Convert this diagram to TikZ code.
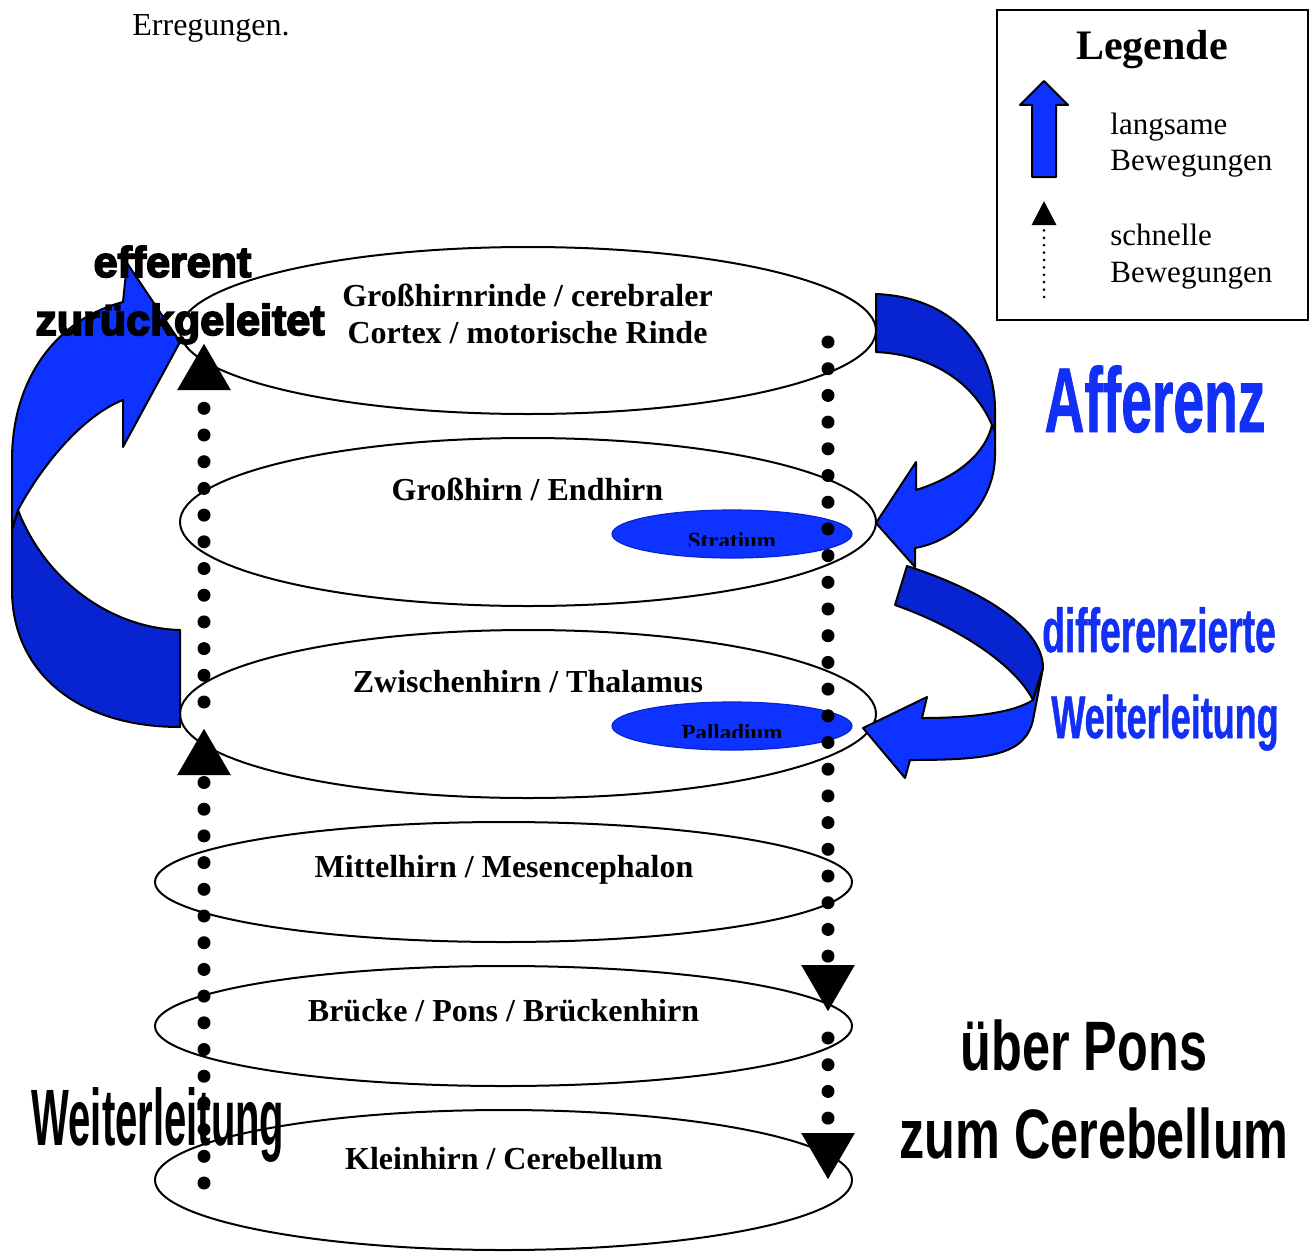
\documentclass[tikz,border=0pt]{standalone}
\usepackage{fontspec}
\setmainfont{Liberation Serif}
\newfontfamily\heavyfont[FakeBold=4]{Liberation Sans}
\newfontfamily\narrowfont[FakeStretch=0.6,FakeBold=0.8]{Liberation Sans}
\newfontfamily\slimfont[FakeStretch=0.5]{Liberation Sans}
\newfontfamily\ponsfont[FakeStretch=0.72]{Liberation Sans}
\usetikzlibrary{shapes.geometric,arrows.meta}
\definecolor{ribbonlight}{RGB}{14,50,255}
\definecolor{ribbondark}{RGB}{8,36,208}
\definecolor{wordblue}{RGB}{18,48,245}

\begin{document}
\begin{tikzpicture}[x=0.5pt, y=-0.5pt,
	brainpart/.style = {draw, ellipse, line width=1pt, minimum width=348pt, inner sep=0pt},
	nucleus/.style = {ellipse, fill=ribbonlight, draw=ribbondark, line width=0.6pt, minimum width=120pt, minimum height=24pt, inner sep=0pt},
	lbl/.style = {anchor=base, inner sep=0pt, font=\fontsize{16}{19}\selectfont\bfseries},
	ribbon/.style = {draw=black, line width=1pt, line join=round},
	fastline/.style = {line width=6.5pt, dash pattern=on 0pt off 13.35pt, line cap=round, -{Triangle[length=23.5pt,width=25pt]}},
	legfast/.style = {line width=1.5pt, dash pattern=on 0pt off 3.7pt, line cap=round, -{Triangle[length=12pt,width=12pt]}},
	]
		\useasboundingbox (0,0) rectangle (1315,1252);
		
		% Hirnebenen
		\node[brainpart, minimum height=83.5pt] (rinde) at (528,330.5) {};
		\node[brainpart, minimum height=84pt] (endhirn) at (528,522) {};
		\node[brainpart, minimum height=84pt] (thalamus) at (528,714) {};
		\node[brainpart, minimum width=348.5pt, minimum height=60pt] (mittelhirn) at (503.5,882) {};
		\node[brainpart, minimum width=348.5pt, minimum height=60pt] (pons) at (503.5,1026) {};
		\node[brainpart, minimum width=348.5pt, minimum height=70pt] (kleinhirn) at (503.5,1180) {};
		
		% efferent zurueckgeleitet
		\filldraw[ribbon, fill=ribbondark] (18,510) -- (12,530) -- (12,590) .. controls (12,670) and (75,727) .. (180,727) -- (180,630) .. controls (110,628) and (45,580) .. (18,510) -- cycle;
		\filldraw[ribbon, fill=ribbonlight] (180,342) -- (127,263) -- (123,302) .. controls (55,320) and (12,380) .. (12,460) -- (12,530) -- (18,510) .. controls (45,460) and (85,415) .. (123,400) -- (123,447) -- cycle;
		
		% differenzierte Weiterleitung
		\filldraw[ribbon, fill=ribbondark] (907,566) .. controls (975,588) and (1043,625) .. (1043,668) -- (1033,700) .. controls (1015,665) and (960,628) .. (895,605) -- cycle;
		\filldraw[ribbon, fill=ribbonlight] (1043,668) -- (1033,720) .. controls (1025,755) and (990,760) .. (910,760) -- (905,778) -- (863,728) -- (927,697) -- (922,718) .. controls (975,718) and (1015,712) .. (1033,700) -- cycle;
		
		% Afferenz
		\filldraw[ribbon, fill=ribbondark] (876,294) .. controls (950,297) and (995,345) .. (995,410) -- (995,432) -- (992,425) .. controls (975,385) and (935,355) .. (876,352) -- cycle;
		\filldraw[ribbon, fill=ribbonlight] (995,432) -- (995,455) .. controls (995,500) and (960,540) .. (915,548) -- (915,567) -- (876,523) -- (916,462) -- (916,490) .. controls (955,478) and (985,455) .. (992,425) -- cycle;
		
		% Kerne
		\node[nucleus] (stratium) at (732,534) {};
		\node[nucleus] (palladium) at (732,726) {};
		\begin{scope}
			\clip (600,500) rectangle (870,545);
			\node[anchor=base, inner sep=0pt, font=\fontsize{11.5}{13}\selectfont\bfseries] (stratiumtext) at (732,548) {Stratium};
		\end{scope}
		\begin{scope}
			\clip (600,700) rectangle (870,737);
			\node[anchor=base, inner sep=0pt, font=\fontsize{11.5}{13}\selectfont\bfseries] (palladiumtext) at (732,740) {Palladium};
		\end{scope}
		
		% schnelle Bahnen
		\coordinate (lbot) at (204,1183);
		\coordinate (lmid) at (204,728);
		\coordinate (lmid2) at (204,702);
		\coordinate (ltop) at (204,343);
		\coordinate (rtop) at (828,342);
		\coordinate (rmid) at (828,1012);
		\coordinate (rmid2) at (828,1038);
		\coordinate (rbot) at (828,1180);
		\draw[fastline] (lbot) -- (lmid);
		\draw[fastline] (lmid2) -- (ltop);
		\draw[fastline] (rtop) -- (rmid);
		\draw[fastline] (rmid2) -- (rbot);
		
		% Beschriftung
		\node[lbl] (rindetext) at (527.5,306) {Großhirnrinde / cerebraler};
		\node[lbl] (rindetext2) at (527.5,343) {Cortex / motorische Rinde};
		\node[lbl] (endhirntext) at (527.5,500) {Großhirn / Endhirn};
		\node[lbl] (thalamustext) at (528,692) {Zwischenhirn / Thalamus};
		\node[lbl] (mittelhirntext) at (504,877) {Mittelhirn / Mesencephalon};
		\node[lbl] (ponstext) at (503.5,1021) {Brücke / Pons / Brückenhirn};
		\node[lbl] (kleinhirntext) at (504,1169) {Kleinhirn / Cerebellum};
		
		\node[anchor=base west, inner sep=0pt, font=\fontsize{16}{19}\selectfont] (erregung) at (132,36) {Erregungen.};
		
		\node[anchor=base, inner sep=0pt, font=\heavyfont\bfseries\fontsize{21.5}{25}\selectfont] (efferent) at (172.5,277) {efferent};
		\node[anchor=base, inner sep=0pt, font=\heavyfont\bfseries\fontsize{21.5}{25}\selectfont] (zurueck) at (180,335) {zurückgeleitet};
		
		\node[anchor=base, inner sep=0pt, text=wordblue, font=\narrowfont\bfseries\fontsize{46}{50}\selectfont] (afferenz) at (1155,432) {Afferenz};
		\node[anchor=base, inner sep=0pt, text=wordblue, font=\narrowfont\bfseries\fontsize{31}{35}\selectfont] (differenz) at (1159,652) {differenzierte};
		\node[anchor=base, inner sep=0pt, text=wordblue, font=\narrowfont\bfseries\fontsize{30}{34}\selectfont] (weiterblau) at (1165,738) {Weiterleitung};
		
		\node[anchor=base, inner sep=0pt, font=\slimfont\bfseries\fontsize{40}{44}\selectfont] (weiter) at (158,1145) {Weiterleitung};
		\node[anchor=base, inner sep=0pt, font=\ponsfont\bfseries\fontsize{35}{40}\selectfont] (ueberpons) at (1084,1070) {über Pons};
		\node[anchor=base, inner sep=0pt, font=\ponsfont\bfseries\fontsize{35}{40}\selectfont] (zumcereb) at (1094,1158) {zum Cerebellum};
		
		% Legende
		\node[draw, line width=1pt, minimum width=155.5pt, minimum height=155pt, inner sep=0pt] (legende) at (1152.5,165) {};
		\node[anchor=base, inner sep=0pt, font=\fontsize{21}{25}\selectfont\bfseries] (legtitel) at (1152,60) {Legende};
		\filldraw[ribbon, fill=ribbonlight] (1044,81) -- (1068,105) -- (1056,105) -- (1056,177) -- (1032,177) -- (1032,105) -- (1020,105) -- cycle;
		\coordinate (legbot) at (1044,297);
		\coordinate (legtop) at (1044,201);
		\draw[legfast] (legbot) -- (legtop);
		\node[anchor=base west, inner sep=0pt, align=left, font=\fontsize{15.5}{18}\selectfont] (langsam) at (1110,170) {langsame\\Bewegungen};
		\node[anchor=base west, inner sep=0pt, align=left, font=\fontsize{15.5}{18.5}\selectfont] (schnell) at (1110,282) {schnelle\\Bewegungen};
		
	\end{tikzpicture}
\end{document}
